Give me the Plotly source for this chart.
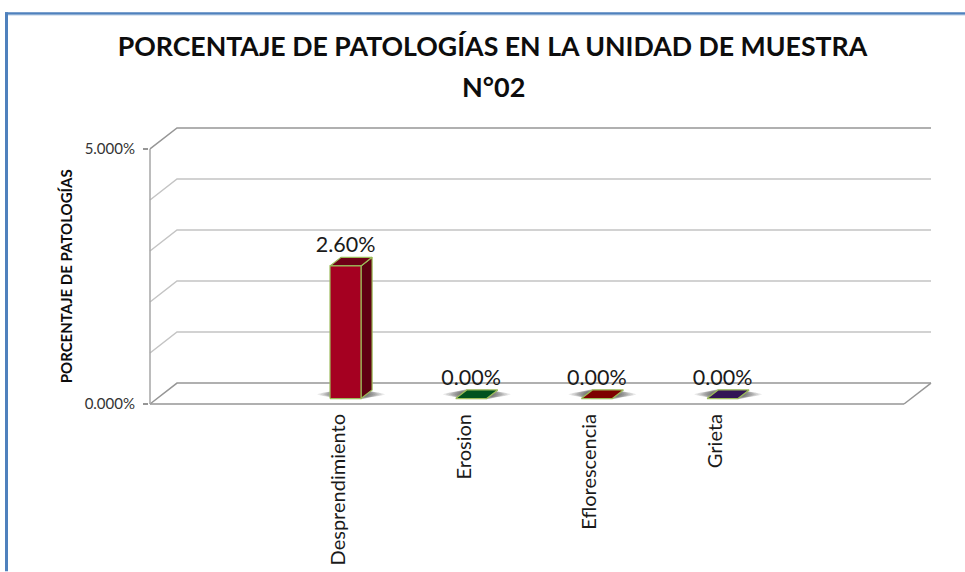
import plotly.graph_objects as go

# ---- data ----
categories = ["Desprendimiento", "Erosion", "Eflorescencia", "Grieta"]
values = [2.60, 0.00, 0.00, 0.00]
value_labels = ["2.60%", "0.00%", "0.00%", "0.00%"]
front_colors = ["#A50021", "#006B2D", "#A00000", "#3F1D6B"]
top_colors = ["#6E0016", "#00521F", "#7E0000", "#321555"]
side_colors = ["#5E0012", "#00401A", "#600000", "#28104A"]
gridline_values = [0, 1, 2, 3, 4, 5]
y_ticks = [0, 5]
y_tick_labels = ["0.000%", "5.000%"]
title_line_1 = "PORCENTAJE DE PATOLOGÍAS EN LA UNIDAD DE MUESTRA"
title_line_2 = "N°02"
y_title = "PORCENTAJE DE PATOLOGÍAS"
positions = [1, 2, 3, 4]

# ---- layout geometry (pixels) ----
W, H = 965, 572
FL, FR, FT, FB = 150, 904, 149, 404.5   # front plane of the chart box
slots = 6
px_x = (FR - FL) / slots                # pixels per category slot
px_y = (FB - FT) / 5                    # pixels per percent unit
DX = 27 / px_x                          # pseudo-3D depth in x units
DY = 21 / px_y                          # pseudo-3D depth in y units
D0, D1 = 0.26, 0.67                     # bar front / back depth fractions
HALF = 15.5 / px_x
PAD = 1                                 # px kept round the box so edge lines are not cut
x0, x1 = -0.5, 5.5

# plot area covers the whole box including its receding walls
L, R, T, B = FL - PAD, FR + 27 + PAD, FT - 21 - PAD, FB + PAD
xrange = [x0 - PAD / px_x, x1 + DX + PAD / px_x]
yrange = [-PAD / px_y, 5 + DY + PAD / px_y]


def px(x):
    return (x - L) / (R - L)


def py(y):
    return (B - y) / (B - T)


fig = go.Figure()


def poly(xs, ys, fill=None, line=None, width=1.0):
    fig.add_trace(go.Scatter(
        x=xs, y=ys, mode="lines", fill="toself" if fill else None,
        fillcolor=fill, line=dict(color=line or "rgba(0,0,0,0)", width=width if line else 0),
        hoverinfo="skip", showlegend=False))


# Walls / floor gridlines
for v in gridline_values:
    strong = v in (0, 5)
    poly([x0, x0 + DX, x1 + DX], [v, v + DY, v + DY],
         line="#969696" if strong else "#C4C4C4", width=1.5)
poly([x1, x1 + DX], [0, DY], line="#969696", width=1.5)
poly([x0, x1], [0, 0], line="#969696", width=1.5)
poly([x0, x0], [0, 5], line="#A6A6A6", width=1.5)

# Soft shadows at the foot of each bar: stacked translucent rounded blobs
blob_x = [1, 0.88, 0.6, -0.6, -0.88, -1, -0.88, -0.6, 0.6, 0.88, 1]
blob_y = [0, 0.55, 1, 1, 0.55, 0, -0.55, -1, -1, -0.55, 0]
for pos in positions:
    cx = pos + (D0 + D1) / 2 * DX
    cy = (D0 + D1) / 2 * DY
    for half_w, half_h in [(34, 2.5), (31, 3), (28, 3.5), (26, 4), (24, 4.2),
                           (22, 4.5), (20, 4.7), (18, 5)]:
        w, h = half_w / px_x, half_h / px_y
        poly([cx + w * a for a in blob_x], [cy + h * b for b in blob_y],
             fill="rgba(50,50,50,0.11)")

# Pseudo-3D bars
EDGE = "#9BBB59"
for pos, val, fc, tc, sc in zip(positions, values, front_colors, top_colors, side_colors):
    fx0, fx1 = pos + D0 * DX - HALF, pos + D0 * DX + HALF
    bx0, bx1 = pos + D1 * DX - HALF, pos + D1 * DX + HALF
    fb, bb = D0 * DY, D1 * DY
    if val > 0:
        poly([fx1, bx1, bx1, fx1, fx1], [fb, bb, bb + val, fb + val, fb], fill=sc, line=EDGE, width=1.2)
    poly([fx0, fx1, bx1, bx0, fx0], [fb + val, fb + val, bb + val, bb + val, fb + val],
         fill=tc, line=EDGE, width=1.2)
    if val > 0:
        poly([fx0, fx1, fx1, fx0, fx0], [fb, fb, fb + val, fb + val, fb], fill=fc, line=EDGE, width=1.2)

# Data labels
fig.add_trace(go.Scatter(
    x=[p + D0 * DX for p in positions],
    y=[v + D1 * DY for v in values],
    mode="text", text=value_labels, textposition="top center",
    textfont=dict(family="Lato, Carlito, sans-serif", size=21.5, color="#1a1a1a"),
    hoverinfo="skip", showlegend=False, cliponaxis=False))

# Frame (blue left and top edges)
frame = [
    (5, 12, 8, H, "#4F81BD"),
    (5, 12, W, 14.5, "#4F81BD"),
    (8, 14.5, W, 15.2, "#B9CDE5"),
]
shapes = [dict(type="rect", xref="paper", yref="paper", layer="below",
               x0=px(a), x1=px(c), y0=py(b), y1=py(d), fillcolor=col, line=dict(width=0))
          for a, b, c, d, col in frame]

FONT = "Lato, Carlito, sans-serif"
fig.update_layout(
    width=W, height=H, autosize=False,
    margin=dict(l=L, r=W - R, t=T, b=H - B, pad=0, autoexpand=False),
    paper_bgcolor="white", plot_bgcolor="rgba(0,0,0,0)",
    showlegend=False, shapes=shapes,
    title=dict(text=title_line_1, x=492.5 / W, xanchor="center", y=1 - 47 / H, yanchor="middle",
               font=dict(family=FONT, size=26.7, color="#0d0d0d", weight="bold")),
    annotations=[
        dict(text=title_line_2, xref="paper", yref="paper", x=px(493.5), y=py(86),
             xanchor="center", yanchor="middle", showarrow=False,
             font=dict(family=FONT, size=27, color="#0d0d0d", weight="bold")),
        dict(text=y_title, xref="paper", yref="paper", x=px(66), y=py(276.5), textangle=-90,
             xanchor="center", yanchor="middle", showarrow=False,
             font=dict(family=FONT, size=15.0, color="#0d0d0d", weight="bold")),
    ],
    xaxis=dict(range=xrange, tickmode="array", tickvals=positions, ticktext=categories,
               tickangle=-90, ticks="", showgrid=False, zeroline=False, showline=False,
               automargin=False, ticklabelstandoff=4,
               tickfont=dict(family=FONT, size=20, color="#1a1a1a")),
    yaxis=dict(range=yrange, tickmode="array", tickvals=y_ticks, ticktext=y_tick_labels,
               ticks="outside", ticklen=5, tickcolor="#969696", tickwidth=1.5,
               showgrid=False, zeroline=False, showline=False, ticklabelstandoff=5,
               automargin=False,
               tickfont=dict(family=FONT, size=15, color="#333333")),
)

fig.write_html("out.html", config={"displayModeBar": False},
               post_script="document.body.style.margin='0';")
